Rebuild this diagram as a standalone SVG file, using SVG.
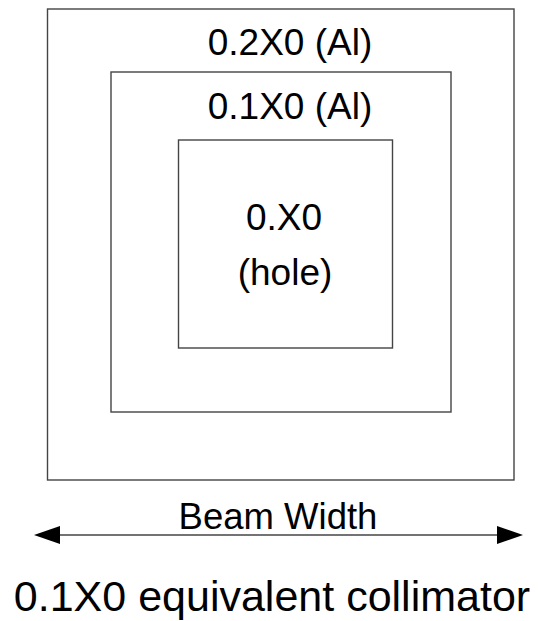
<svg xmlns="http://www.w3.org/2000/svg" width="547" height="621" viewBox="0 0 547 621">
<style>
.box{fill:none;stroke:#444;stroke-width:1.4}
.t{font-family:"Liberation Sans",Arial,sans-serif;fill:#000;text-anchor:middle;font-size:37px}
</style>
<rect width="547" height="621" fill="#fff"/>
<g id="outer">
<rect class="box" x="47.5" y="9" width="466.5" height="471"/>
<text class="t" x="290" y="55">0.2X0 (Al)</text>
</g>
<g id="middle">
<rect class="box" x="111" y="72" width="340" height="340"/>
<text class="t" x="290" y="118.5">0.1X0 (Al)</text>
</g>
<g id="inner">
<rect class="box" x="178.5" y="140" width="214" height="208"/>
<text class="t" x="284" y="230">0.X0</text>
<text class="t" x="285" y="285">(hole)</text>
</g>
<g id="connectors">
<line x1="58" y1="535" x2="499" y2="535" stroke="#444" stroke-width="1.4"/>
<polygon points="34,535 60,526 60,544" fill="#000"/>
<polygon points="523,535 497,526 497,544" fill="#000"/>
</g>
<g id="labels">
<text class="t" x="278" y="529" style="font-size:36.5px">Beam Width</text>
<text class="t" x="272" y="611" style="font-size:43px">0.1X0 equivalent collimator</text>
</g>
</svg>
